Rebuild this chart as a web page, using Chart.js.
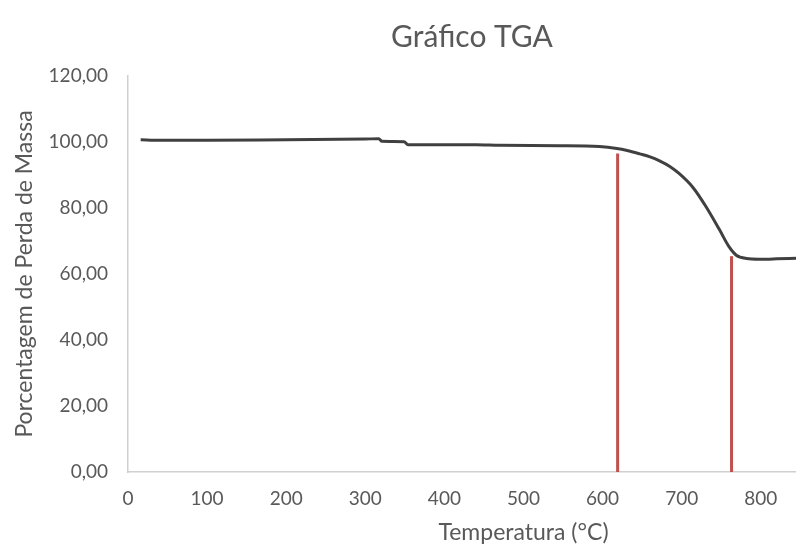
<!DOCTYPE html>
<html>
<head>
<meta charset="utf-8">
<script src="https://cdn.jsdelivr.net/npm/chart.js@4/dist/chart.umd.min.js"></script>
<style>
  html, body { margin: 0; padding: 0; background: #ffffff; overflow: hidden; width: 796px; height: 547px; }
  #wrap { width: 944px; height: 547px; }
  canvas { display: block; }
</style>
</head>
<body>
<div id="wrap"><canvas id="c" width="944" height="547"></canvas></div>
<script>
// Data
const chartTitle = 'Gráfico TGA';
const xAxisTitle = 'Temperatura (°C)';
const yAxisTitle = 'Porcentagem de Perda de Massa';

const temperature = [16, 40, 100, 200, 300, 317, 321, 349, 354, 400, 440, 470, 545, 596, 618, 631, 647, 660, 672, 685, 697, 714, 731, 748, 760, 769, 782, 798, 807, 820, 845];
const massPercent = [100.7, 100.5, 100.5, 100.7, 100.9, 101.0, 100.2, 100.1, 99.2, 99.2, 99.2, 99.0, 98.9, 98.6, 98.0, 97.4, 96.4, 95.5, 94.3, 92.6, 90.4, 86.3, 80.3, 73.3, 68.2, 65.7, 64.7, 64.5, 64.5, 64.6, 64.8];

const markerTemps = [619, 763];
const markerTops = [96.5, 65.4];

const xTickValues = [0, 100, 200, 300, 400, 500, 600, 700, 800];
const yTickValues = [0, 20, 40, 60, 80, 100, 120];

const textColor = '#595959';
const axisColor = '#d0d0d0';
const curveColor = '#404040';
const markerColor = '#c0504d';

Chart.defaults.font.family = 'Lato';

const curveData = temperature.map((t, i) => ({ x: t, y: massPercent[i] }));
const markerSets = markerTemps.map((t, i) => ({
  data: [{ x: t, y: 0 }, { x: t, y: markerTops[i] }],
  borderColor: markerColor,
  borderWidth: 3,
  pointRadius: 0,
  tension: 0,
  order: 2
}));

new Chart(document.getElementById('c'), {
  type: 'line',
  data: {
    datasets: [
      {
        data: curveData,
        borderColor: curveColor,
        borderWidth: 3,
        pointRadius: 0,
        cubicInterpolationMode: 'monotone',
        order: 1
      },
      ...markerSets
    ]
  },
  options: {
    responsive: false,
    animation: false,
    layout: { padding: 0 },
    plugins: {
      legend: { display: false },
      tooltip: { enabled: false },
      title: {
        display: true,
        text: chartTitle,
        color: textColor,
        font: { size: 30, weight: 'normal', lineHeight: 1.2 },
        padding: { top: 19, bottom: 21 }
      }
    },
    scales: {
      x: {
        type: 'linear',
        min: 0,
        max: 1000,
        afterBuildTicks: (scale) => { scale.ticks = xTickValues.map(v => ({ value: v })); },
        afterFit: (scale) => { scale.height = 75; },
        grid: { display: false, drawTicks: false },
        border: { display: true, color: axisColor, width: 1.5 },
        ticks: {
          color: textColor,
          font: { size: 19, lineHeight: 1.2 },
          padding: 15,
          maxRotation: 0,
          autoSkip: false,
          callback: (v) => String(v)
        },
        title: {
          display: true,
          text: xAxisTitle,
          color: textColor,
          font: { size: 23, lineHeight: 1.2 },
          padding: { top: 10, bottom: 1 }
        }
      },
      y: {
        type: 'linear',
        min: 0,
        max: 120,
        afterBuildTicks: (scale) => { scale.ticks = yTickValues.map(v => ({ value: v })); },
        afterFit: (scale) => { scale.width = 128; },
        grid: { display: false, drawTicks: false },
        border: { display: true, color: axisColor, width: 1.5 },
        ticks: {
          color: textColor,
          font: { size: 19, lineHeight: 1.2 },
          padding: 20,
          callback: (v) => Number(v).toFixed(2).replace('.', ',')
        },
        title: {
          display: true,
          text: yAxisTitle,
          color: textColor,
          font: { size: 23, lineHeight: 1.2 },
          padding: { top: 11, bottom: 4 }
        }
      },
      yRight: {
        type: 'linear',
        position: 'right',
        min: 0,
        max: 120,
        afterFit: (scale) => { scale.width = 25; },
        grid: { display: false, drawTicks: false },
        border: { display: false },
        ticks: { display: false },
        title: { display: false }
      }
    }
  }
});
</script>
</body>
</html>
